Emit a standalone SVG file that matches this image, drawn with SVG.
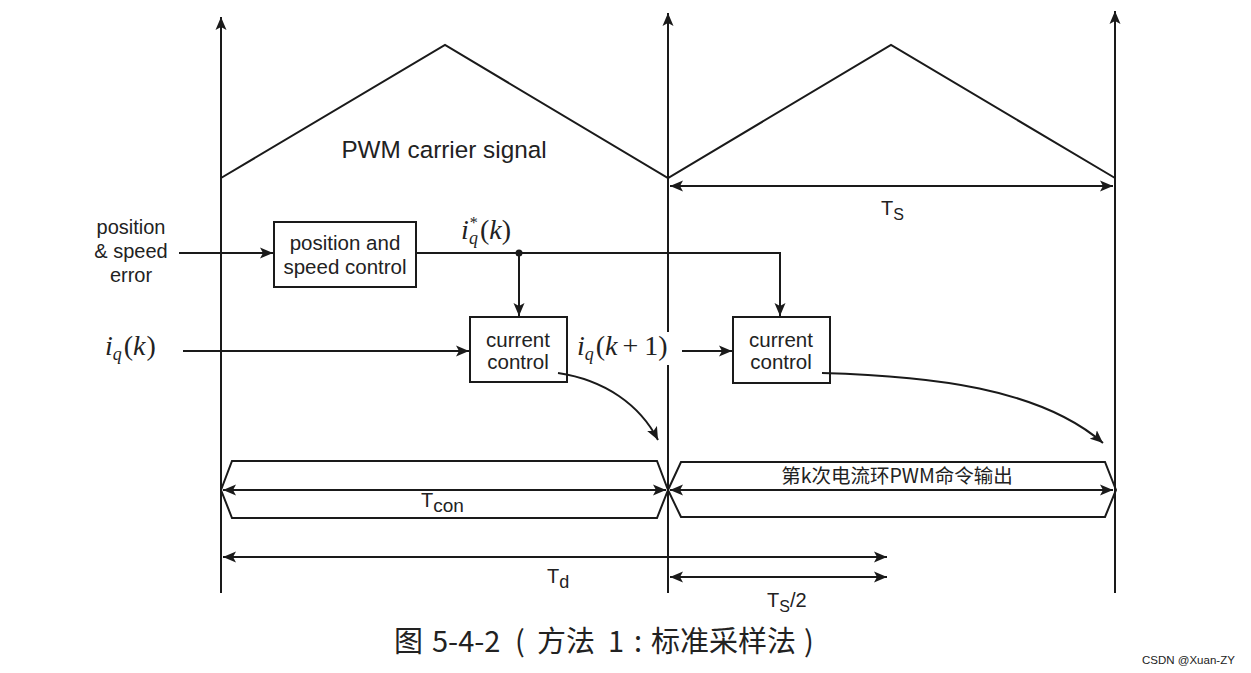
<svg xmlns="http://www.w3.org/2000/svg" width="1251" height="673" viewBox="0 0 1251 673">
<defs>
<marker id="ah" markerUnits="userSpaceOnUse" markerWidth="14" markerHeight="12" refX="13" refY="6" orient="auto-start-reverse">
<path d="M0,0.5 L13,6 L0,11.5 L3,6 z" fill="#1a1a1a"/>
</marker>
<style>
.ln{stroke:#1a1a1a;stroke-width:2;fill:none}
.ar{stroke:#1a1a1a;stroke-width:2;fill:none;marker-end:url(#ah)}
.da{stroke:#1a1a1a;stroke-width:2;fill:none;marker-start:url(#ah);marker-end:url(#ah)}
.box{fill:#fff;stroke:#1a1a1a;stroke-width:2}
.t{font-family:"Liberation Sans",Arial,sans-serif;fill:#222}
.m{font-family:"Liberation Serif","Times New Roman",serif;fill:#222;font-size:28px}
.mi{font-style:italic}
.cjk{font-family:"Noto Sans CJK SC","Noto Sans",sans-serif}
</style>
</defs>
<rect width="1251" height="673" fill="#fff"/>

<g id="axes">
<line class="ar" x1="221" y1="593" x2="221" y2="17"/>
<line class="ar" x1="668" y1="593" x2="668" y2="13"/>
<line class="ar" x1="1115" y1="593" x2="1115" y2="11"/>
</g>

<g id="carrier">
<polyline class="ln" points="221,178 445,45 668,178 891,45 1115,178"/>
<text class="t" x="444" y="158" font-size="24.3" text-anchor="middle">PWM carrier signal</text>
</g>

<g id="ts">
<line class="da" x1="670" y1="186" x2="1113" y2="186"/>
<text class="t" x="881" y="215" font-size="20">T<tspan font-size="16" dy="5">S</tspan></text>
</g>

<g id="input-label">
<text class="t" font-size="20" text-anchor="middle"><tspan x="131" y="234">position</tspan><tspan x="131" y="258">&amp; speed</tspan><tspan x="131" y="282">error</tspan></text>
</g>

<g id="speed-control">
<rect class="box" x="274" y="222" width="142" height="65"/>
<text class="t" font-size="20.5" text-anchor="middle"><tspan x="345" y="250">position and</tspan><tspan x="345" y="274">speed control</tspan></text>
</g>

<g id="current-control-1">
<rect class="box" x="470" y="317" width="97" height="65"/>
<text class="t" font-size="20.5" text-anchor="middle"><tspan x="518" y="347">current</tspan><tspan x="518" y="369">control</tspan></text>
</g>

<g id="current-control-2">
<rect class="box" x="733" y="317" width="97" height="66"/>
<text class="t" font-size="20.5" text-anchor="middle"><tspan x="781" y="347">current</tspan><tspan x="781" y="369">control</tspan></text>
</g>

<g id="math-labels">
<text class="m" x="461" y="239"><tspan class="mi">i</tspan><tspan font-size="16" dx="1" dy="-11">*</tspan><tspan class="mi" font-size="18" x="469" dy="16">q</tspan><tspan dx="2" dy="-5">(</tspan><tspan class="mi">k</tspan><tspan>)</tspan></text>
<text class="m" x="105" y="355"><tspan class="mi">i</tspan><tspan class="mi" font-size="18" dy="5">q</tspan><tspan dx="2" dy="-5">(</tspan><tspan class="mi">k</tspan><tspan dx="1">)</tspan></text>
<rect x="574" y="332" width="104" height="33" fill="#fff"/>
<text class="m" x="577" y="355"><tspan class="mi">i</tspan><tspan class="mi" font-size="18" dy="5">q</tspan><tspan dx="2" dy="-5">(</tspan><tspan class="mi">k</tspan><tspan dx="5">+</tspan><tspan dx="6">1)</tspan></text>
</g>

<g id="connectors">
<line class="ar" x1="179" y1="253" x2="273" y2="253"/>
<polyline class="ar" points="416,253 780,253 780,316"/>
<circle cx="519" cy="253" r="3.5" fill="#1a1a1a"/>
<line class="ar" x1="519" y1="253" x2="519" y2="316"/>
<line class="ar" x1="183" y1="351" x2="469" y2="351"/>
<line class="ar" x1="682" y1="351" x2="732" y2="351"/>
<path class="ar" d="M558,373 C605,380 640,405 658,440"/>
<path class="ar" d="M822,373 C930,376 1040,388 1103,443"/>
</g>

<g id="tcon">
<polygon class="ln" points="221,490 232,461 657,461 668,490 657,518 232,518"/>
<line class="da" x1="223" y1="490" x2="666" y2="490"/>
<text class="t" x="421" y="507" font-size="20">T<tspan font-size="19" dy="5">con</tspan></text>
</g>

<g id="output">
<polygon class="ln" points="668,490 681,462 1105,462 1116,490 1105,517 681,517"/>
<line class="da" x1="670" y1="490" x2="1113" y2="490"/>
<text class="t cjk" x="897" y="483" font-size="19.5" text-anchor="middle">第k次电流环PWM命令输出</text>
</g>

<g id="td">
<line class="da" x1="223" y1="557" x2="887" y2="557"/>
<text class="t" x="547" y="583" font-size="20">T<tspan font-size="18" dy="5">d</tspan></text>
</g>

<g id="ts2">
<line class="da" x1="670" y1="577" x2="887" y2="577"/>
<text class="t" x="767" y="607" font-size="20">T<tspan font-size="16" dy="5">S</tspan><tspan dy="-5">/2</tspan></text>
</g>

<text class="t cjk" y="652" font-size="29" fill="#333"><tspan x="394">图</tspan><tspan x="432">5-4-2</tspan><tspan x="515">(</tspan><tspan x="537">方法</tspan><tspan x="608">1</tspan><tspan x="634">:</tspan><tspan x="651">标准采样法</tspan><tspan x="804">)</tspan></text>
<text class="t" x="1142" y="664" font-size="11.5" fill="#999">CSDN @Xuan-ZY</text>
</svg>
